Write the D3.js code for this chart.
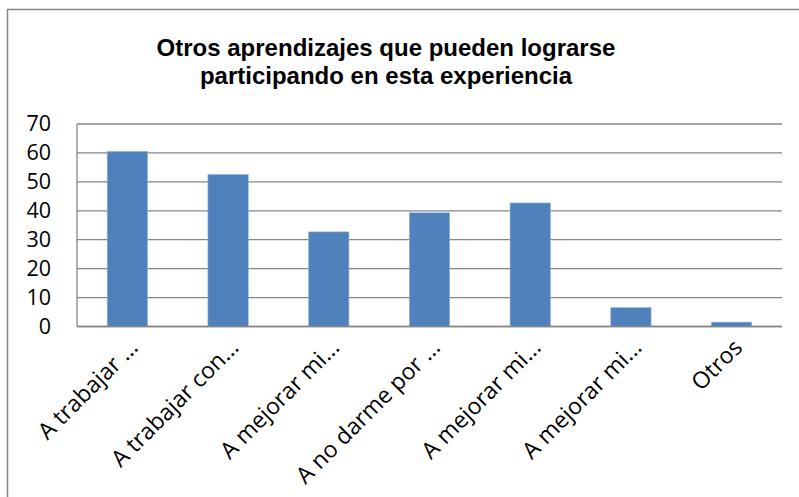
<!DOCTYPE html>
<html>
<head>
<meta charset="utf-8">
<script src="https://cdn.jsdelivr.net/npm/d3@7"></script>
<style>
  body { margin: 0; background: #fff; }
  svg { display: block; }
</style>
</head>
<body>
<script>
var svg_width = 799;
var svg_height = 497;

// values
var categories = ["A trabajar ...", "A trabajar con...", "A mejorar mi...", "A no darme por ...", "A mejorar mi... ", "A mejorar mi...  ", "Otros"];
var values = [60.5, 52.5, 32.7, 39.3, 42.7, 6.5, 1.5];
var y_ticks = [0, 10, 20, 30, 40, 50, 60, 70];
var title_lines = ["Otros aprendizajes que pueden lograrse", "participando en esta experiencia"];

var plot = {left: 77, right: 782, top: 124, bottom: 326.5};

var svg = d3.select("body").append("svg")
    .attr("width", svg_width)
    .attr("height", svg_height);

// outer chart frame (cut off at the right and bottom like the picture)
svg.append("rect")
    .attr("x", 7.5)
    .attr("y", 9.5)
    .attr("width", svg_width + 10)
    .attr("height", svg_height + 10)
    .attr("fill", "none")
    .attr("stroke", "#868686")
    .attr("stroke-width", 1.5);

svg.selectAll(".title")
    .data(title_lines)
    .enter()
    .append("text")
    .attr("class", "title")
    .attr("x", 386)
    .attr("y", function(d, i) { return 56 + i * 28; })
    .attr("text-anchor", "middle")
    .style("font-family", "Arial, 'Liberation Sans', sans-serif")
    .style("font-weight", "bold")
    .style("font-size", "24px")
    .text(function(d) { return d; });

var xscale = d3.scaleBand()
    .domain(d3.range(categories.length))
    .range([plot.left, plot.right])
    .paddingInner(0.6)
    .paddingOuter(0.3);

var yscale = d3.scaleLinear()
    .domain([0, 70])
    .range([plot.bottom, plot.top]);

// gridlines
svg.append("g")
    .selectAll("line")
    .data(y_ticks)
    .enter()
    .append("line")
    .attr("x1", plot.left)
    .attr("x2", plot.right)
    .attr("y1", function(d) { return yscale(d); })
    .attr("y2", function(d) { return yscale(d); })
    .attr("stroke", "#868686")
    .attr("stroke-width", 1.3);

// y axis
var yaxis = d3.axisLeft(yscale).tickValues(y_ticks).tickSize(0).tickPadding(0);
var yg = svg.append("g")
    .attr("transform", "translate(" + 51 + ",0)")
    .call(yaxis);
yg.select(".domain").remove();
yg.selectAll("text")
    .style("font-family", "'Open Sans', sans-serif")
    .style("font-size", "21.5px")
    .attr("fill", "#000");

svg.append("line")
    .attr("x1", plot.left)
    .attr("x2", plot.left)
    .attr("y1", plot.top)
    .attr("y2", plot.bottom)
    .attr("stroke", "#868686")
    .attr("stroke-width", 1.3);

// bars
svg.selectAll(".bar")
    .data(values)
    .enter()
    .append("rect")
    .attr("class", "bar")
    .attr("x", function(d, i) { return xscale(i); })
    .attr("y", function(d) { return yscale(d); })
    .attr("width", xscale.bandwidth())
    .attr("height", function(d) { return plot.bottom - yscale(d); })
    .attr("fill", "#4F81BD")
    .attr("stroke", "#8EB1DA")
    .attr("stroke-width", 0.6);

// x axis baseline
svg.append("line")
    .attr("x1", plot.left)
    .attr("x2", plot.right)
    .attr("y1", plot.bottom)
    .attr("y2", plot.bottom)
    .attr("stroke", "#868686")
    .attr("stroke-width", 1.5);

// rotated category labels
svg.selectAll(".xlabel")
    .data(categories)
    .enter()
    .append("text")
    .attr("class", "xlabel")
    .attr("transform", function(d, i) {
        var cx = xscale(i) + xscale.bandwidth() / 2 + 12;
        return "translate(" + cx + "," + 349 + ") rotate(-45)";
    })
    .attr("text-anchor", "end")
    .style("font-family", "'Open Sans', sans-serif")
    .style("font-size", "23px")
    .text(function(d) { return d.trim(); });
</script>
</body>
</html>
